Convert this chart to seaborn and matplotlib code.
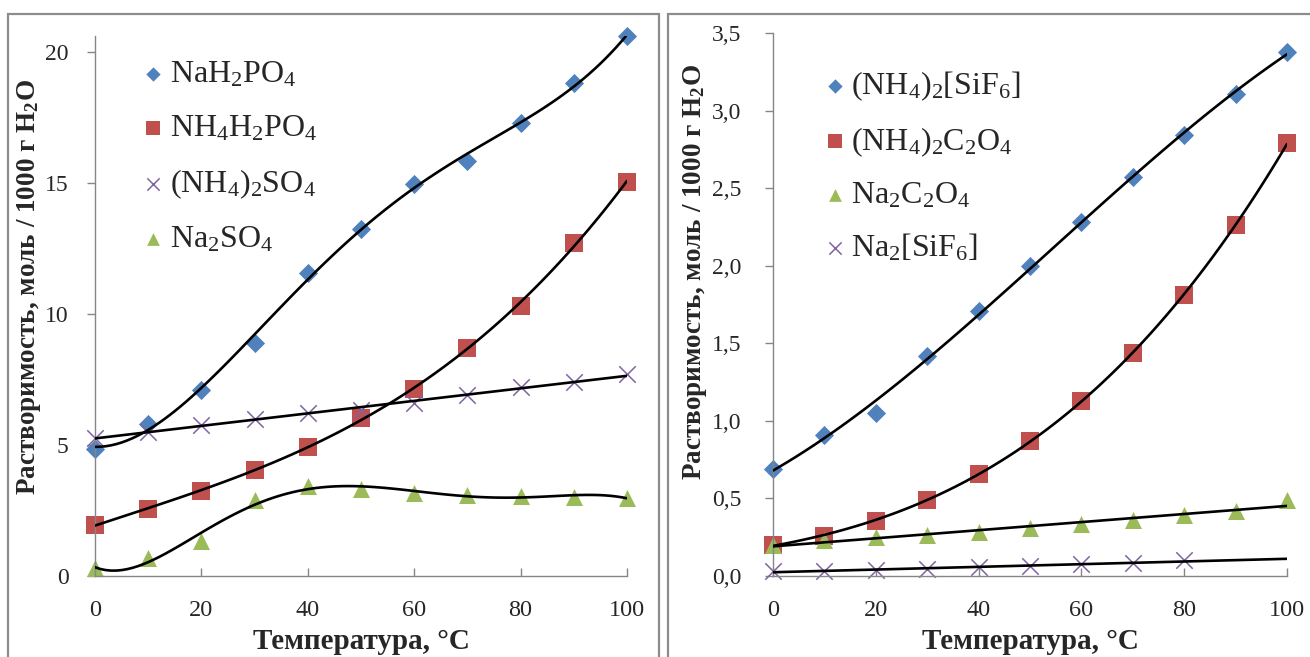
import numpy as np
import pandas as pd
import matplotlib
matplotlib.use("Agg")
import matplotlib.pyplot as plt
from matplotlib.patches import Rectangle
import seaborn as sns
import warnings
warnings.filterwarnings("ignore")

# ---------------- data ----------------
temps = [0, 10, 20, 30, 40, 50, 60, 70, 80, 90, 100]

# left panel
nah2po4 = [4.85, 5.8, 7.1, 8.9, 11.55, 13.25, 14.95, 15.85, 17.3, 18.8, 20.6]
nh4h2po4 = [1.95, 2.56, 3.24, 4.05, 4.92, 6.03, 7.14, 8.7, 10.3, 12.7, 15.04]
nh4_2so4 = [5.27, 5.5, 5.76, 6.0, 6.2, 6.34, 6.6, 6.9, 7.2, 7.4, 7.7]
na2so4 = [0.3, 0.7, 1.34, 2.9, 3.42, 3.3, 3.18, 3.1, 3.05, 3.02, 2.98]

# right panel
nh4_2sif6 = [0.69, 0.91, 1.05, 1.42, 1.71, 2.0, 2.28, 2.57, 2.84, 3.11, 3.38]
nh4_2c2o4 = [0.2, 0.26, 0.355, 0.49, 0.66, 0.87, 1.13, 1.44, 1.81, 2.26, 2.79]
na2c2o4 = [0.2, 0.23, 0.25, 0.265, 0.285, 0.31, 0.335, 0.36, 0.39, 0.42, 0.49]
temps_na2sif6 = [0, 10, 20, 30, 40, 50, 60, 70, 80]
na2sif6 = [0.03, 0.035, 0.04, 0.045, 0.055, 0.065, 0.075, 0.085, 0.1]

left_labels = [r"$\mathregular{NaH_2PO_4}$", r"$\mathregular{NH_4H_2PO_4}$",
               r"$\mathregular{(NH_4)_2SO_4}$", r"$\mathregular{Na_2SO_4}$"]
right_labels = [r"$\mathregular{(NH_4)_2[SiF_6]}$", r"$\mathregular{(NH_4)_2C_2O_4}$",
                r"$\mathregular{Na_2C_2O_4}$", r"$\mathregular{Na_2[SiF_6]}$"]
left_yticks = [0, 5, 10, 15, 20]
right_yticks = [0.0, 0.5, 1.0, 1.5, 2.0, 2.5, 3.0, 3.5]
xticks = [0, 20, 40, 60, 80, 100]

xlabel = "Температура, °С"
ylabel = r"Растворимость, моль / 1000 г H$\mathregular{_2}$O"

# ---------------- style ----------------
sns.set_theme(style="white")
plt.rcParams["font.family"] = ["Liberation Serif", "DejaVu Serif"]
plt.rcParams["mathtext.fontset"] = "custom"
plt.rcParams["mathtext.rm"] = "Liberation Serif"

BLUE, RED, GREEN, PURPLE = "#4F81BD", "#C0504D", "#9BBB59", "#8064A2"
AXC = "#868686"

fig = plt.figure(figsize=(13.1, 6.57), dpi=100)
W, H = 1310, 657

# panel frames
for (x0, x1) in [(8, 659), (668, 1316)]:
    fig.patches.append(Rectangle((x0 / W, -0.05), (x1 - x0) / W, (H - 14) / H + 0.05,
                                 transform=fig.transFigure, fill=False,
                                 edgecolor="#8c8c8c", linewidth=1.6))

axL = fig.add_axes([95 / W, (H - 576) / H, 532 / W, 540 / H])
axR = fig.add_axes([773 / W, (H - 576) / H, 514 / W, 543 / H])


def draw(ax, series, ylim, yticks, fmt, labels, leg_anchor, leg_spacing, ypad):
    ax.set_xlim(0, 100)
    ax.set_ylim(*ylim)
    for (xs, ys, marker, color, size, order, trunc), lab in zip(series, labels):
        df = pd.DataFrame({"T": xs, "S": ys})
        sns.regplot(data=df, x="T", y="S", order=order, ci=None, scatter=False,
                    truncate=trunc, ax=ax,
                    line_kws=dict(color="black", linewidth=1.9, zorder=3))
        if marker == "x":
            sns.scatterplot(data=df, x="T", y="S", marker="x", color=color, s=size,
                            linewidth=1.1, ax=ax, clip_on=False, zorder=2, label=lab)
        else:
            sns.scatterplot(data=df, x="T", y="S", marker=marker, color=color, s=size,
                            linewidth=0, ax=ax, clip_on=False, zorder=2, label=lab)
    ax.set_xlim(0, 100)
    ax.set_ylim(*ylim)
    ax.set_xticks(xticks)
    ax.set_yticks(yticks)
    ax.set_yticklabels([fmt(v) for v in yticks])
    for s in ["top", "right"]:
        ax.spines[s].set_visible(False)
    for s in ["left", "bottom"]:
        ax.spines[s].set_color(AXC)
        ax.spines[s].set_linewidth(1.0)
    ax.tick_params(axis="y", direction="out", length=6, width=1, color=AXC,
                   labelsize=17, pad=ypad, left=True)
    ax.tick_params(axis="x", direction="in", length=6, width=1, color=AXC,
                   labelsize=17.5, pad=17, bottom=True)
    ax.set_xlabel(xlabel, fontsize=21, fontweight="bold", labelpad=5)
    ax.set_ylabel(ylabel, fontsize=19.5, fontweight="bold")
    ax.legend(loc="upper left", bbox_to_anchor=leg_anchor, frameon=False,
              fontsize=23, markerscale=0.75, handletextpad=0.12,
              labelspacing=leg_spacing, handlelength=0.8, borderaxespad=0,
              borderpad=0)
    ax.grid(False)


fmt_int = lambda v: f"{int(v)}"
fmt_comma = lambda v: f"{v:.1f}".replace(".", ",")

left_series = [
    (temps, nah2po4, "D", BLUE, 95, 4, True),
    (temps, nh4h2po4, "s", RED, 170, 3, True),
    (temps, nh4_2so4, "x", PURPLE, 140, 1, True),
    (temps, na2so4, "^", GREEN, 150, 6, True),
]
right_series = [
    (temps, nh4_2sif6, "D", BLUE, 95, 3, True),
    (temps, nh4_2c2o4, "s", RED, 170, 3, True),
    (temps, na2c2o4, "^", GREEN, 150, 1, True),
    (temps_na2sif6, na2sif6, "x", PURPLE, 140, 1, False),
]

draw(axL, left_series, (0, 20.6), left_yticks, fmt_int, left_labels,
     (0.085, 0.955), 0.75, 13)
draw(axR, right_series, (0, 3.5), right_yticks, fmt_comma, right_labels,
     (0.095, 0.933), 0.69, 17)

axL.yaxis.set_label_coords(-0.097, 0.535)
axR.yaxis.set_label_coords(-0.124, 0.56)

fig.savefig("out.png", dpi=100, facecolor="white")
